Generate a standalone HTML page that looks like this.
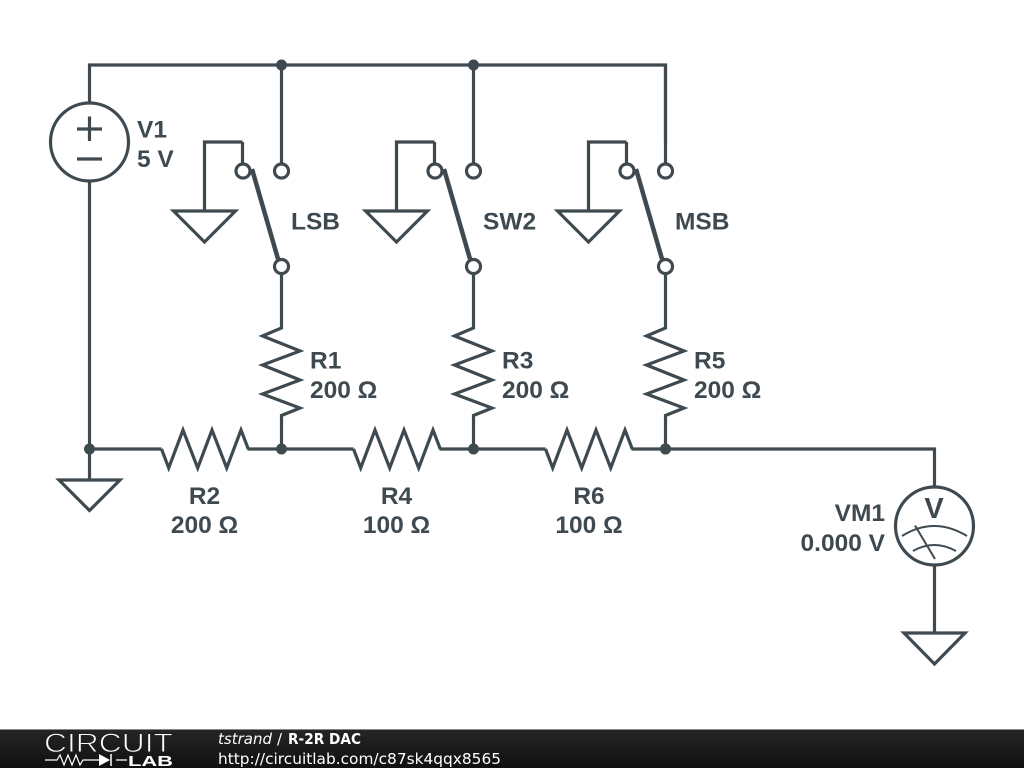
<!DOCTYPE html>
<html><head><meta charset="utf-8"><style>
html,body{margin:0;padding:0;background:#fff;width:1024px;height:768px;overflow:hidden}
svg{display:block;position:absolute;left:0;top:0}
.l{font-family:"Liberation Sans",sans-serif;font-weight:bold;font-size:24.5px;fill:#3f4a50}
.w{fill:none;stroke:#3f4a50;stroke-width:3.2;stroke-linejoin:miter}
.d{fill:#3f4a50}
.f{font-family:"DejaVu Sans",sans-serif;font-size:15px;fill:#fff}
</style></head><body>
<svg width="1024" height="768" viewBox="0 0 1024 768" xmlns="http://www.w3.org/2000/svg">
<defs>
<linearGradient id="g" x1="0" y1="0" x2="0" y2="1"><stop offset="0" stop-color="#262626"/><stop offset="1" stop-color="#101010"/></linearGradient>
<g id="sw">
<path class="w" d="M-39 142H-77V211M-39 142V163"/>
<path class="w" d="M-108 211H-46L-77 242Z"/>
<circle class="w" cx="-38.500" cy="171" r="7" style="fill:#fff"/>
<path class="w" d="M0 65V163"/>
<circle class="w" cx="0" cy="171" r="7" style="fill:#fff"/>
<path d="M-29.500 169L-3.500 259" fill="none" stroke="#3f4a50" stroke-width="4.500"/>
<circle class="w" cx="0" cy="266.500" r="7" style="fill:#fff"/>
</g>
<g id="rv">
<path class="w" d="M0 274V328L-19 336L18.500 351L-19 365L18.500 380L-19 394L18.500 408L0 415.500V449"/>
<circle class="d" cx="0" cy="449" r="5.500"/>
</g>
<path id="rh" class="w" d="M-42.500 449L-35.300 468L-21 430L-6.300 468L8 430L22.700 468L37 430L44.300 449"/>
</defs>
<rect width="1024" height="768" fill="#fff"/>

<!-- top rail -->
<path class="w" d="M89.500 103V65H665.500V142"/>
<path class="w" d="M89.500 181V449"/>
<circle class="d" cx="281.500" cy="65" r="5.500"/>
<circle class="d" cx="473.500" cy="65" r="5.500"/>

<!-- V1 -->
<circle class="w" cx="89.500" cy="142" r="39"/>
<path class="w" d="M77 129H102M89.500 116.500V141M77 159H102"/>
<text class="l" x="137" y="137.500">V1</text>
<text class="l" x="137" y="167">5 V</text>

<!-- switches -->
<use href="#sw" x="281.500" y="0"/>
<use href="#sw" x="473.500" y="0"/>
<use href="#sw" x="665.500" y="0"/>
<text class="l" x="291" y="229.500">LSB</text>
<text class="l" x="483" y="229.500">SW2</text>
<text class="l" x="675" y="229.500">MSB</text>

<!-- vertical resistors -->
<use href="#rv" x="281.500"/>
<use href="#rv" x="473.500"/>
<use href="#rv" x="665.500"/>
<text class="l" x="310" y="368.500">R1</text>
<text class="l" x="310" y="398">200 Ω</text>
<text class="l" x="502" y="368.500">R3</text>
<text class="l" x="502" y="398">200 Ω</text>
<text class="l" x="694" y="368.500">R5</text>
<text class="l" x="694" y="398">200 Ω</text>

<!-- bottom rail -->
<path class="w" d="M89.500 449H161.500M247.500 449H353.500M439.500 449H545.500M631.500 449H934.500V488"/>
<use href="#rh" x="204"/>
<use href="#rh" x="396"/>
<use href="#rh" x="588"/>
<circle class="d" cx="89.500" cy="449" r="5.500"/>
<circle class="d" cx="665.500" cy="449" r="5.500"/>
<path class="w" d="M89.500 449V480"/>
<path class="w" d="M59 480H120L89.500 510.500Z"/>

<text class="l" x="204.500" y="504" text-anchor="middle">R2</text>
<text class="l" x="204.500" y="533" text-anchor="middle">200 Ω</text>
<text class="l" x="396.500" y="504" text-anchor="middle">R4</text>
<text class="l" x="396.500" y="533" text-anchor="middle">100 Ω</text>
<text class="l" x="589" y="504" text-anchor="middle">R6</text>
<text class="l" x="589" y="533" text-anchor="middle">100 Ω</text>

<!-- VM1 -->
<circle class="w" cx="934.500" cy="526" r="39"/>
<path class="w" d="M934.500 565V633"/>
<path class="w" d="M904 633H965L934.500 664Z"/>
<text class="l" x="934" y="518" text-anchor="middle" style="font-size:29px">V</text>
<path d="M902 536Q934 516 967 536M913 551Q934 539 956 551M915 525.500L935 559" fill="none" stroke="#3f4a50" stroke-width="2"/>
<text class="l" x="885" y="521" text-anchor="end">VM1</text>
<text class="l" x="885" y="551" text-anchor="end">0.000 V</text>

<!-- footer -->
<rect x="0" y="729" width="1024" height="39" fill="url(#g)"/>
<rect x="0" y="729" width="1024" height="1" fill="#888"/>
<text x="44" y="752" font-family="Liberation Sans,sans-serif" font-size="26.500" fill="#fff" stroke="#1f1f1f" stroke-width="0.900" paint-order="fill stroke" textLength="129" lengthAdjust="spacingAndGlyphs">CIRCUIT</text>
<path d="M45 760H57L60 755L64 765L68 755L72 765L76 755L80 765L83 760H99M116 760H127" fill="none" stroke="#fff" stroke-width="1.200"/>
<path d="M99 754L110 760L99 766Z" fill="#fff"/>
<path d="M111 754V766" stroke="#fff" stroke-width="1.500"/>
<text x="128" y="766" font-family="Liberation Sans,sans-serif" font-size="15" font-weight="bold" fill="#fff" textLength="45" lengthAdjust="spacingAndGlyphs">LAB</text>
<text class="f" x="218" y="744" font-style="italic" textLength="54" lengthAdjust="spacingAndGlyphs">tstrand</text>
<text class="f" x="277" y="744">/</text>
<text class="f" x="288" y="744" font-weight="bold" textLength="73" lengthAdjust="spacingAndGlyphs">R-2R DAC</text>
<text class="f" x="218" y="764" textLength="283" lengthAdjust="spacingAndGlyphs">http://circuitlab.com/c87sk4qqx8565</text>
</svg>
</body></html>
